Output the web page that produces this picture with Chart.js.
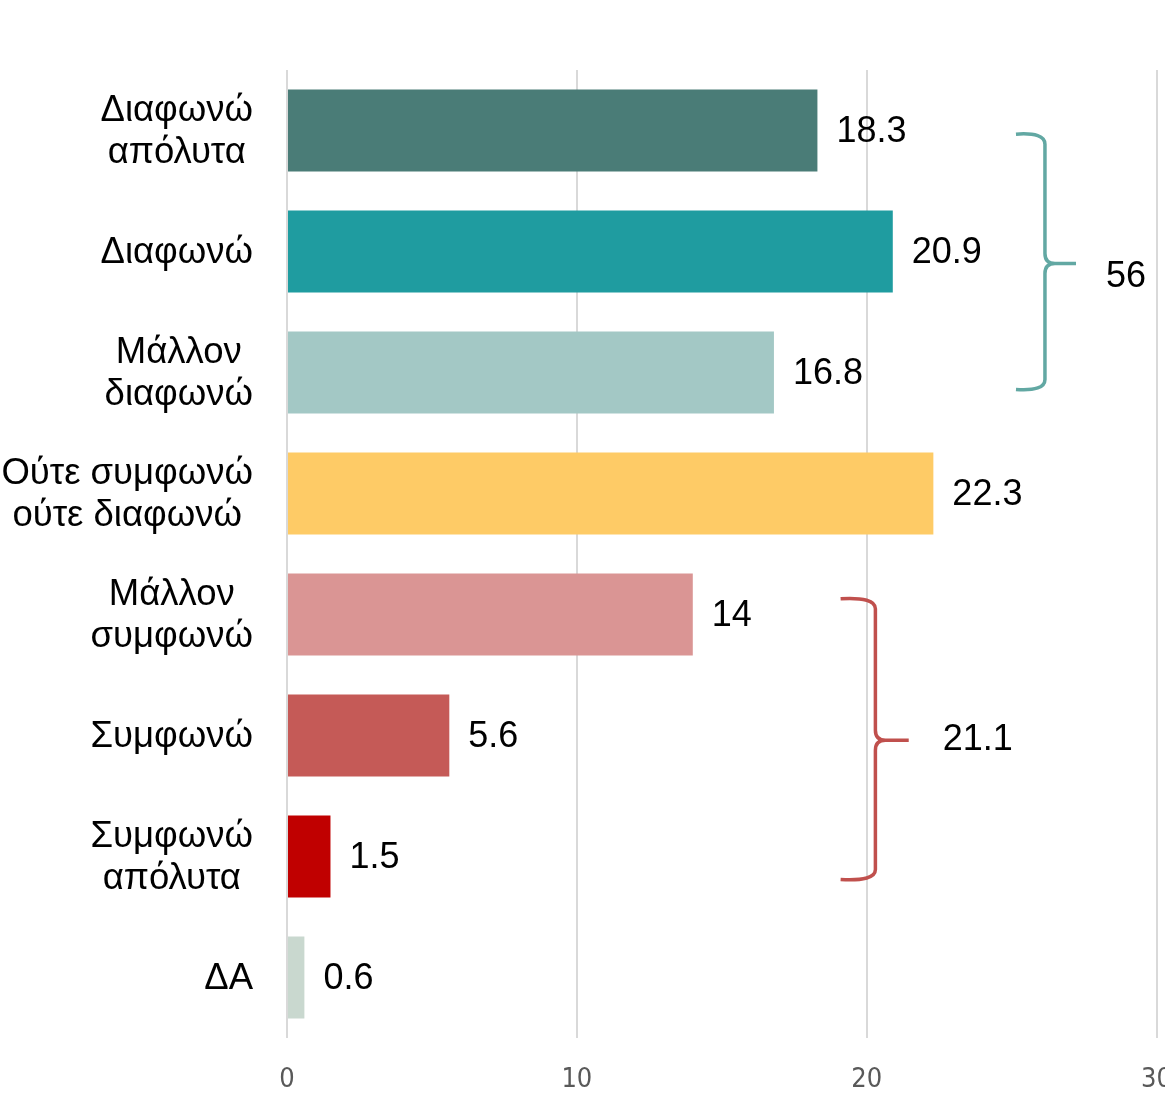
<!DOCTYPE html>
<html>
<head>
<meta charset="utf-8">
<script src="https://cdn.jsdelivr.net/npm/chart.js@4.4.1/dist/chart.umd.min.js"></script>
<style>
html,body{margin:0;padding:0;background:#fff;overflow:hidden;}
#wrap{position:absolute;left:0;top:0;width:1198px;height:1096px;}
</style>
</head>
<body>
<div id="wrap"><canvas id="c" width="1198" height="1096" style="width:1198px;height:1096px"></canvas></div>
<script>
// ---- data ----
const categories = [
  ["Διαφωνώ", "απόλυτα"],
  ["Διαφωνώ"],
  ["Μάλλον", "διαφωνώ"],
  ["Ούτε συμφωνώ", "ούτε διαφωνώ"],
  ["Μάλλον", "συμφωνώ"],
  ["Συμφωνώ"],
  ["Συμφωνώ", "απόλυτα"],
  ["ΔΑ"]
];
const values = [18.3, 20.9, 16.8, 22.3, 14, 5.6, 1.5, 0.6];
const barColors = ["#4A7C77", "#1F9CA0", "#A3C8C5", "#FECB66", "#DA9594", "#C55A57", "#C00000", "#C9D8CF"];
const xTicks = [0, 10, 20, 30];
// group braces: from/to/tip in category-index units, x positions in value units
const groupLabels = ["56", "21.1"];
const groupFrom = [0.03, 3.87];
const groupTo = [2.14, 6.19];
const groupTip = [1.10, 5.04];
const groupEndX = [25.15, 19.1];
const groupSpineX = [26.15, 20.3];
const groupTipX = [27.22, 21.45];
const groupLabelX = [28.95, 23.83];
const groupLabelY = [1.21, 5.04];
const groupColors = ["#62A8A3", "#C0504D"];

const FONT = '"Liberation Sans", Arial, sans-serif';

const yLabelPlugin = {
  id: 'yLabels',
  afterDraw(chart) {
    const ctx = chart.ctx;
    const y = chart.scales.y;
    ctx.save();
    ctx.font = '36.5px ' + FONT;
    ctx.fillStyle = '#000';
    ctx.textBaseline = 'middle';
    ctx.textAlign = 'center';
    const right = 253, lh = 42;
    categories.forEach((lines, i) => {
      const cy = y.getPixelForValue(i);
      let maxW = 0;
      lines.forEach(l => { maxW = Math.max(maxW, ctx.measureText(l).width); });
      const cx = right - maxW / 2;
      const n = lines.length;
      lines.forEach((l, k) => {
        ctx.fillText(l, cx, cy + 1 + (k - (n - 1) / 2) * lh);
      });
    });
    ctx.restore();
  }
};

const valueLabelPlugin = {
  id: 'valueLabels',
  afterDatasetsDraw(chart) {
    const ctx = chart.ctx;
    const meta = chart.getDatasetMeta(0);
    ctx.save();
    ctx.font = '36px ' + FONT;
    ctx.fillStyle = '#000';
    ctx.textBaseline = 'middle';
    ctx.textAlign = 'left';
    meta.data.forEach((bar, i) => {
      ctx.fillText(String(values[i]), bar.x + 19, bar.y + 2);
    });
    ctx.restore();
  }
};

const bracePlugin = {
  id: 'braces',
  afterDraw(chart) {
    const ctx = chart.ctx;
    const xs = chart.scales.x, ys = chart.scales.y;
    ctx.save();
    groupLabels.forEach((lab, g) => {
      const xe = xs.getPixelForValue(groupEndX[g]);
      const xv = xs.getPixelForValue(groupSpineX[g]);
      const xt = xs.getPixelForValue(groupTipX[g]);
      const yt = ys.getPixelForValue(groupFrom[g]);
      const yb = ys.getPixelForValue(groupTo[g]);
      const ym = ys.getPixelForValue(groupTip[g]);
      const r = 10;
      ctx.strokeStyle = groupColors[g];
      ctx.lineWidth = 3.5;
      ctx.lineJoin = 'round';
      ctx.beginPath();
      ctx.moveTo(xe, yt);
      ctx.quadraticCurveTo(xv, yt - 2, xv, yt + r);
      ctx.lineTo(xv, ym - r);
      ctx.quadraticCurveTo(xv, ym, xv + 10, ym);
      ctx.lineTo(xt, ym);
      ctx.moveTo(xv + 10, ym);
      ctx.quadraticCurveTo(xv, ym, xv, ym + r);
      ctx.lineTo(xv, yb - r);
      ctx.quadraticCurveTo(xv, yb + 2, xe, yb);
      ctx.stroke();
      ctx.font = '36px ' + FONT;
      ctx.fillStyle = '#000';
      ctx.textAlign = 'center';
      ctx.textBaseline = 'middle';
      ctx.fillText(lab, xs.getPixelForValue(groupLabelX[g]), ys.getPixelForValue(groupLabelY[g]));
    });
    ctx.restore();
  }
};

new Chart(document.getElementById('c'), {
  type: 'bar',
  data: {
    labels: categories.map(c => c.join(' ')),
    datasets: [{
      data: values,
      backgroundColor: barColors,
      borderWidth: 0,
      categoryPercentage: 1,
      barPercentage: 0.677
    }]
  },
  options: {
    indexAxis: 'y',
    responsive: false,
    animation: false,
    layout: { padding: { top: 70, right: 14, left: 0, bottom: 0 } },
    plugins: { legend: { display: false }, tooltip: { enabled: false } },
    scales: {
      x: {
        min: 0, max: 30,
        afterBuildTicks(scale) { scale.ticks = xTicks.map(v => ({ value: v })); },
        afterFit(scale) { scale.height = 58; },
        grid: { color: '#D9D9D9', lineWidth: 2, drawTicks: false },
        border: { display: false },
        ticks: {
          padding: 26,
          color: '#595959',
          font: { family: '"Liberation Sans Narrow", "DejaVu Sans Condensed", sans-serif', size: 27 }
        }
      },
      y: {
        afterFit(scale) { scale.width = 287; },
        grid: { display: false },
        border: { display: false },
        ticks: { display: false }
      }
    }
  },
  plugins: [yLabelPlugin, valueLabelPlugin, bracePlugin]
});
</script>
</body>
</html>
